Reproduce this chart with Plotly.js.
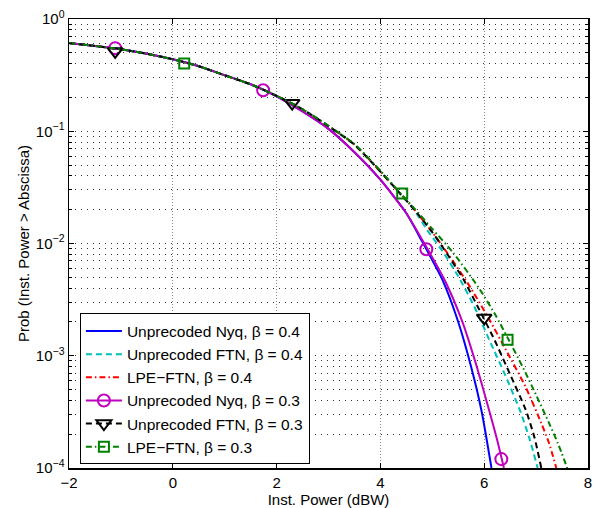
<!DOCTYPE html>
<html><head><meta charset="utf-8">
<script src="https://cdn.plot.ly/plotly-3.0.1.min.js"></script>
<style>html,body{margin:0;padding:0;background:#fff}#chart{width:593px;height:508px}</style>
</head><body><div id="chart"></div>
<script>
// ---- data ----
const xTicks = [-2, 0, 2, 4, 6, 8];
const xTickText = ['\u22122', '0', '2', '4', '6', '8'];
const yTicks = [1e-4, 1e-3, 1e-2, 1e-1, 1];
const yTickText = ['10<sup>\u22124</sup>', '10<sup>\u22123</sup>', '10<sup>\u22122</sup>', '10<sup>\u22121</sup>', '10<sup>0</sup>'];

const seriesNames = ['Unprecoded Nyq, \u03b2 = 0.4', 'Unprecoded FTN, \u03b2 = 0.4', 'LPE\u2212FTN, \u03b2 = 0.4',
                     'Unprecoded Nyq, \u03b2 = 0.3', 'Unprecoded FTN, \u03b2 = 0.3', 'LPE\u2212FTN, \u03b2 = 0.3'];

const xNyq04 = [-2,-1.5,-1,-0.5,0,0.5,1,1.5,2,2.5,3,3.5,4,4.5,4.8,5.2,5.5,5.75,5.95,6.14];
const pNyq04 = [0.611,0.575,0.537,0.49,0.438,0.38,0.315,0.262,0.205,0.15,0.105,0.065,0.037,0.0186,0.0105,0.0047,0.002,0.00079,0.00032,0.0001];

const xFtn04 = [-2,-1.5,-1,-0.5,0,0.5,1,1.5,2,2.5,3,3.5,4,4.4,4.64,4.9,5.2,5.5,5.8,6.1,6.4,6.7,6.88,7.03];
const pFtn04 = [0.611,0.575,0.537,0.49,0.438,0.38,0.315,0.262,0.207,0.157,0.111,0.076,0.0437,0.0272,0.0202,0.0132,0.0085,0.0051,0.0028,0.00138,0.00068,0.000316,0.000178,0.0001];

const xLpe04 = [-2,-1.5,-1,-0.5,0,0.5,1,1.5,2,2.5,3,3.5,4,4.4,4.64,5.0,5.3,5.7,6.1,6.4,6.8,7.1,7.25,7.39];
const pLpe04 = [0.611,0.575,0.537,0.49,0.438,0.38,0.315,0.262,0.207,0.157,0.111,0.076,0.0437,0.0272,0.0204,0.0126,0.0081,0.0043,0.0021,0.00117,0.000525,0.000251,0.000166,0.0001];

const xNyq03 = [-2,-1.5,-1,-0.5,0,0.5,1,1.5,2,2.5,3,3.5,4,4.5,4.82,5.24,5.58,5.86,6.1,6.25,6.38];
const pNyq03 = [0.611,0.575,0.537,0.49,0.438,0.38,0.315,0.262,0.205,0.15,0.105,0.065,0.037,0.0186,0.0105,0.0047,0.002,0.00079,0.00032,0.000178,0.0001];

const xFtn03 = [-2,-1.5,-1,-0.5,0,0.5,1,1.5,2,2.5,3,3.5,4,4.4,4.64,5.0,5.3,5.6,5.9,6.2,6.5,6.8,6.97,7.1];
const pFtn03 = [0.611,0.575,0.537,0.49,0.438,0.38,0.315,0.262,0.207,0.157,0.111,0.076,0.0437,0.0272,0.0204,0.0126,0.0079,0.0048,0.0026,0.00138,0.00068,0.00033,0.000186,0.0001];

const xLpe03 = [-2,-1.5,-1,-0.5,0,0.5,1,1.5,2,2.5,3,3.5,4,4.4,4.64,5.0,5.4,5.9,6.22,6.45,6.75,7.0,7.25,7.42,7.6];
const pLpe03 = [0.611,0.575,0.537,0.49,0.438,0.38,0.315,0.262,0.207,0.157,0.112,0.077,0.0445,0.0276,0.0209,0.0135,0.0083,0.004,0.00229,0.00145,0.00078,0.000447,0.000251,0.000166,0.0001];

// marker positions
const xNyq03Mk = [-1.11, 1.74, 4.885, 6.33];
const pNyq03Mk = [0.55, 0.232, 0.0089, 0.00012];
const xFtn03Mk = [-1.11, 2.3, 6.0];
const pFtn03Mk = [0.514, 0.178, 0.00217];
const xLpe03Mk = [0.22, 4.42, 6.45];
const pLpe03Mk = [0.401, 0.0279, 0.00139];

// ---- styles ----
const cBlue = '#0000ff', cCyan = '#00bfbf', cRed = '#ff0000', cMag = '#bf00bf', cBlk = '#000000', cGrn = '#008000';
const dashD = '6px,4px';
const dashDD = '6px,3px,1.5px,3px';
const LW = 2;

function line(x, y, color, dash, name, show) {
  return {x: x, y: y, type: 'scatter', mode: 'lines', name: name, showlegend: show,
          line: {color: color, width: LW, dash: dash, shape: 'spline', smoothing: 0.6}, hoverinfo: 'skip'};
}
function marks(x, y, color, symbol, size) {
  return {x: x, y: y, type: 'scatter', mode: 'markers', showlegend: false,
          marker: {symbol: symbol, size: size, color: color, line: {color: color, width: 2}}, hoverinfo: 'skip'};
}
function legendOnly(color, dash, symbol, size, name) {
  return {x: [null], y: [null], type: 'scatter', mode: 'lines+markers', name: name, showlegend: true,
          line: {color: color, width: LW, dash: dash},
          marker: {symbol: symbol, size: size, color: color, line: {color: color, width: 2}}};
}

const data = [
  line(xNyq04, pNyq04, cBlue, 'solid', seriesNames[0], true),
  line(xFtn04, pFtn04, cCyan, dashD, seriesNames[1], true),
  line(xLpe04, pLpe04, cRed, dashDD, seriesNames[2], true),
  line(xNyq03, pNyq03, cMag, 'solid', seriesNames[3], false),
  marks(xNyq03Mk, pNyq03Mk, cMag, 'circle-open', 12),
  line(xFtn03, pFtn03, cBlk, dashD, seriesNames[4], false),
  marks(xFtn03Mk, pFtn03Mk, cBlk, 'triangle-down-open', 13),
  line(xLpe03, pLpe03, cGrn, dashDD, seriesNames[5], false),
  marks(xLpe03Mk, pLpe03Mk, cGrn, 'square-open', 10),
  legendOnly(cMag, 'solid', 'circle-open', 12, seriesNames[3]),
  legendOnly(cBlk, dashD, 'triangle-down-open', 13, seriesNames[4]),
  legendOnly(cGrn, dashDD, 'square-open', 10, seriesNames[5])
];

const layout = {
  width: 593, height: 508,
  margin: {l: 69, r: 5, t: 19, b: 40},
  paper_bgcolor: '#ffffff', plot_bgcolor: '#ffffff',
  font: {family: '"Liberation Sans", Arial, sans-serif', size: 15, color: '#000'},
  showlegend: true,
  legend: {x: 0.021, y: 0.008, xanchor: 'left', yanchor: 'bottom', bgcolor: '#ffffff',
           bordercolor: '#000', borderwidth: 1, font: {size: 15.5, color: '#000'}, itemwidth: 36, traceorder: 'normal'},
  xaxis: {range: [-2, 8], tickmode: 'array', tickvals: xTicks, ticktext: xTickText,
          ticks: 'inside', ticklen: 5, tickcolor: '#000', tickwidth: 1,
          showline: true, linecolor: '#000', linewidth: 1.5, mirror: 'ticks',
          showgrid: true, gridcolor: '#888', griddash: '1px,2px', gridwidth: 1, zeroline: false,
          title: {text: 'Inst. Power (dBW)', font: {size: 15}, standoff: 4}, automargin: false},
  yaxis: {type: 'log', range: [-4, 0], tickmode: 'array', tickvals: yTicks, ticktext: yTickText,
          ticks: 'inside', ticklen: 5, tickcolor: '#000', tickwidth: 1,
          showline: true, linecolor: '#000', linewidth: 1.5, mirror: 'ticks',
          showgrid: true, gridcolor: '#333', griddash: '1px,5px', gridwidth: 1, zeroline: false,
          minor: {dtick: 'D1', ticks: 'inside', ticklen: 3, tickcolor: '#000', showgrid: true,
                  gridcolor: '#333', griddash: '1px,5px', gridwidth: 1},
          title: {text: 'Prob (Inst. Power > Abscissa)', font: {size: 15}}, automargin: false}
};

Plotly.newPlot('chart', data, layout, {staticPlot: true, displayModeBar: false});
</script></body></html>
